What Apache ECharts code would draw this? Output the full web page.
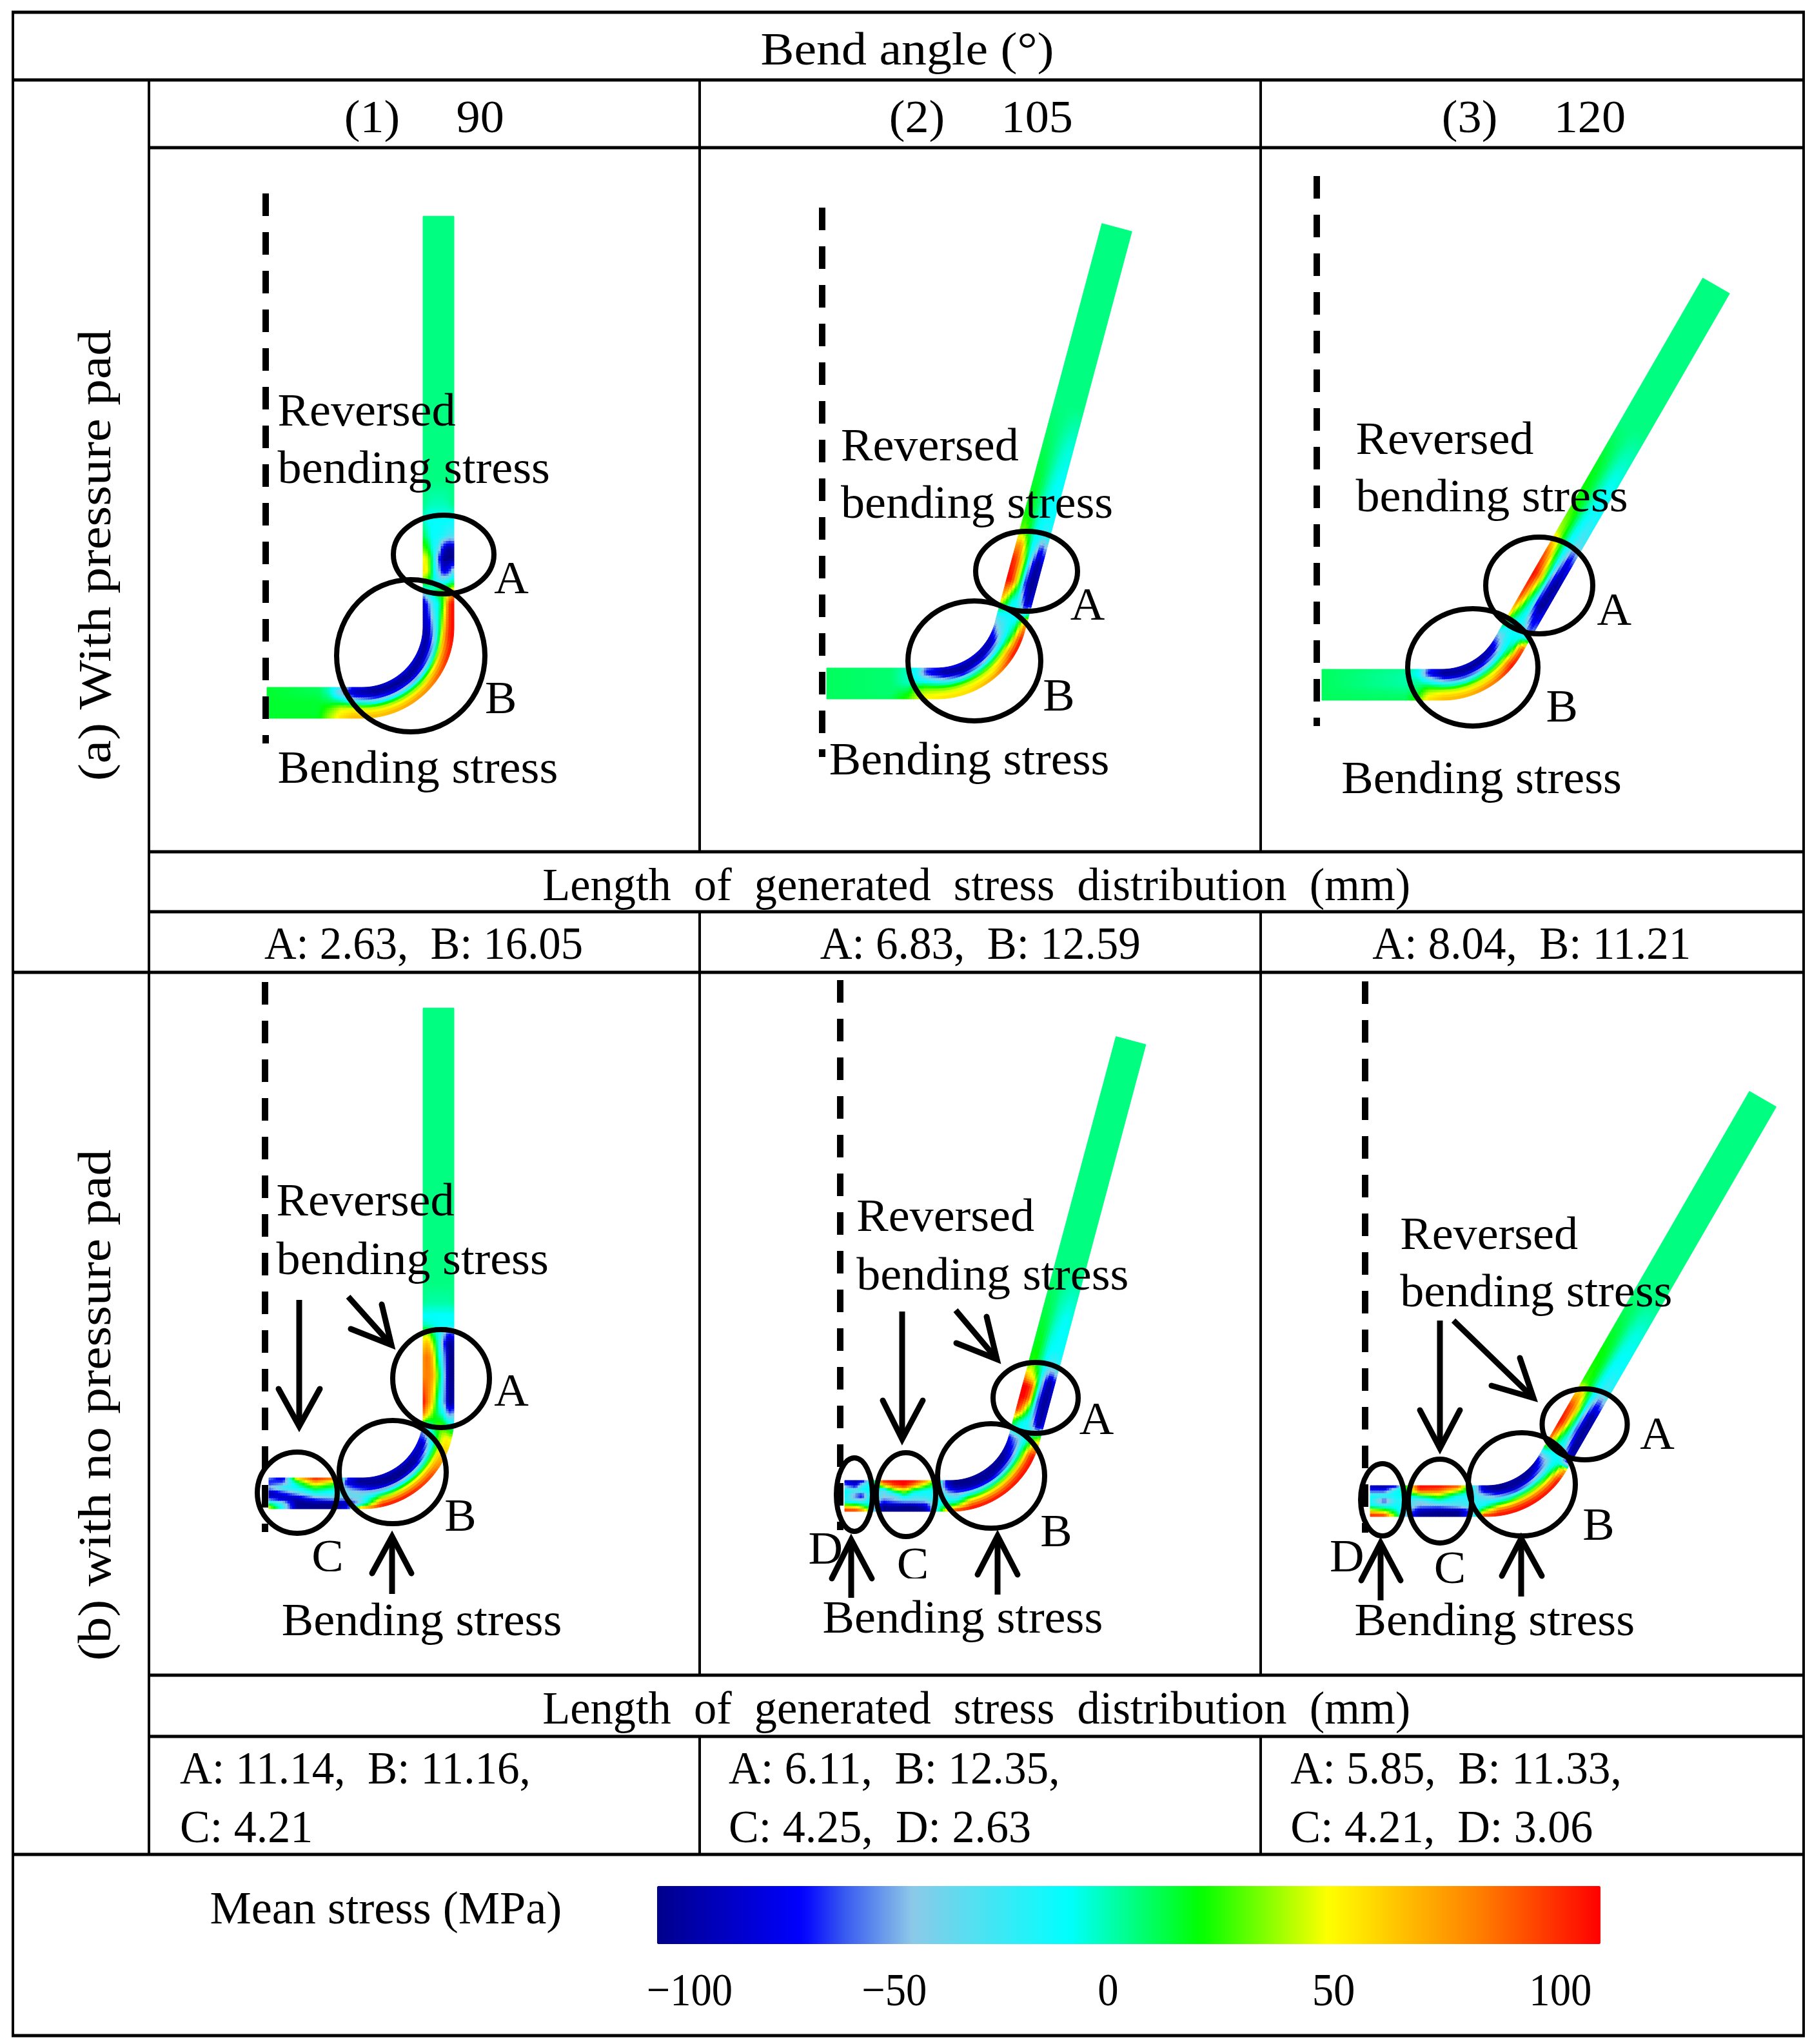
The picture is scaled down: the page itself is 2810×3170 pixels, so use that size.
<!DOCTYPE html>
<html><head><meta charset="utf-8">
<style>html,body{margin:0;padding:0;background:#fff}#c{width:2810px;height:3170px}</style>
<script src="https://cdn.jsdelivr.net/npm/echarts@6/dist/echarts.min.js"></script>
</head><body><div id="c"></div>
<script>
// ---------- values (mean stress in MPa) ----------
const bendAngles = ['90', '105', '120'];
const colorbarTicks = ['\u2212100', '\u221250', '0', '50', '100'];
const lengthsWithPad = ['A: 2.63,  B: 16.05', 'A: 6.83,  B: 12.59', 'A: 8.04,  B: 11.21'];
const lengthsNoPadLine1 = ['A: 11.14,  B: 11.16,', 'A: 6.11,  B: 12.35,', 'A: 5.85,  B: 11.33,'];
const lengthsNoPadLine2 = ['C: 4.21', 'C: 4.25,  D: 2.63', 'C: 4.21,  D: 3.06'];

// distance along the strip; each stress row runs across the strip, inner edge to outer edge
const stations1 = [0,80,97,115,135,170,205,245,290,322,370,388,402,420,440,455,475,500,525,560,970];
const stress1 = [
[10,10,10,10,10,10,10],[6,6,8,10,10,10,12],[-5,-5,1,8,20,28,32],[-30,-50,-20,5,35,44,50],
[-70,-90,-60,-10,35,52,60],[-85,-100,-80,-25,30,50,60],[-75,-100,-85,-30,25,50,65],
[-70,-100,-90,-35,25,55,75],[-75,-100,-70,-20,45,75,95],[-85,-95,-50,-10,55,90,100],
[-90,-60,-25,-10,20,85,100],[-40,-15,-5,10,20,40,70],[20,12,-5,-20,-15,-5,5],
[50,40,-5,-40,-80,-70,-30],[45,35,-5,-60,-100,-100,-100],[25,15,-15,-30,-80,-100,-90],
[8,-5,-15,-15,-20,-30,-30],[-5,-13,-13,-13,-13,-13,-13],[1,-3,-5,-5,-5,-3,1],[1,1,1,1,1,1,1],[1,1,1,1,1,1,1]];

const stations2 = [0,100,125,140,155,185,215,255,290,312,336,366,396,430,452,472,502,555,621,680,966];
const stress2 = [
[5,5,5,5,5,5,5],[3,3,3,3,3,3,5],[-5,-6,-6,-5,3,12,20],[-15,-20,-15,-5,20,30,35],
[-55,-70,-35,-5,25,38,44],[-75,-100,-60,-15,25,42,50],[-70,-100,-85,-20,30,44,52],
[-75,-100,-60,-5,35,48,70],[-85,-90,-40,-5,45,75,100],[-70,-45,-30,-10,15,70,100],
[-30,-25,-20,-15,-10,30,70],[60,30,-8,-13,-40,-95,-70],[100,95,50,-5,-85,-100,-90],
[95,85,50,0,-60,-100,-80],[65,70,30,-8,-30,-75,-50],[25,30,10,-10,-15,-30,-20],
[15,15,5,-8,-13,-15,-13],[10,10,5,-3,-10,-13,-13],[5,5,2,-1,-5,-8,-8],[1,1,1,1,1,1,1],[1,1,1,1,1,1,1]];

const stations3 = [0,130,150,165,190,225,260,290,318,345,390,430,468,505,558,625,700,956];
const stress3 = [
[5,5,5,5,5,5,5],[0,-3,-3,-3,0,3,5],[-10,-15,-5,0,5,15,25],[-60,-70,-30,0,25,40,50],
[-90,-100,-60,-15,30,50,60],[-80,-100,-75,-20,30,50,65],[-85,-100,-60,-10,35,55,80],
[-90,-85,-40,-5,40,80,100],[-50,-40,-20,-10,-5,60,90],[40,-5,-15,-15,-25,-60,-50],
[90,60,10,-15,-90,-100,-80],[100,90,50,-5,-70,-100,-85],[85,65,25,-8,-40,-85,-60],
[35,30,10,-10,-20,-35,-25],[18,15,8,-5,-13,-18,-13],[12,10,5,-2,-8,-10,-8],[1,1,1,1,1,1,1],[1,1,1,1,1,1,1]];

const stations4 = [3,25,47,75,103,125,145,175,210,250,285,305,322,340,357,399,428,449,463,477,491,512,540,968];
const stress4 = [
[-50,-70,-45,-100,-70,0,50],[-85,-60,-20,-70,-90,-30,-20],[60,0,-15,-40,-90,-100,-95],
[100,60,15,-13,-55,-100,-100],[85,30,0,-20,-40,-100,-100],[-60,-80,-50,-35,-45,-90,-70],
[-90,-100,-70,-40,-35,-40,70],[-85,-100,-90,-35,15,70,100],[-80,-100,-100,-30,30,70,100],
[-75,-100,-90,-20,35,70,90],[-70,-90,-45,-8,30,55,55],[-60,-40,-15,5,35,45,40],
[10,-5,5,25,20,5,-10],[80,50,25,0,-15,-60,-50],[100,75,45,-5,-40,-100,-90],
[70,75,65,20,-30,-100,-100],[70,78,55,-5,-40,-100,-100],[50,60,30,-10,-60,-100,-90],
[30,35,5,-13,-40,-70,-60],[-5,-8,-10,-13,-15,-13,-13],[-13,-13,-13,-13,-13,-13,-13],
[0,-3,-3,-3,-3,-3,0],[1,1,1,1,1,1,1],[1,1,1,1,1,1,1]];

const stations5 = [5,22,32,43,52,65,82,98,112,130,150,165,178,198,240,280,305,323,333,350,367,388,406,420,433,447,471,520,600,964];
const stress5 = [
[-85,-55,-10,-10,-25,40,100],[-95,-80,-25,-60,-30,30,100],[-90,-30,-15,-80,-35,15,80],
[-30,-13,-13,-20,-15,-5,35],[10,-5,-13,-13,-30,-45,-40],[100,50,-40,-40,-60,-100,-100],
[100,90,15,-40,-50,-95,-100],[100,100,40,-5,-40,-100,-100],[100,74,0,-25,-40,-100,-100],
[74,30,-15,-20,-40,-85,-100],[15,-13,-15,-20,-15,-15,-10],[-90,-80,-60,-30,-15,10,70],
[-100,-100,-75,-40,-15,30,100],[-100,-100,-85,-20,30,75,100],[-90,-100,-90,-15,40,75,100],
[-95,-100,-70,-8,45,85,100],[-90,-75,-55,-10,35,85,100],[-70,-55,-45,-15,0,40,50],
[-20,-15,-15,-15,-10,10,25],[30,0,-13,-20,-50,-100,-70],[95,70,20,-10,-70,-100,-80],
[100,100,75,-5,-80,-100,-85],[100,100,80,0,-70,-100,-80],[70,50,40,-10,-60,-100,-70],
[30,40,15,-8,-40,-60,-40],[12,20,5,-10,-30,-30,-20],[10,15,5,-10,-13,-15,-13],
[8,8,3,-5,-10,-13,-10],[1,1,1,1,1,1,1],[1,1,1,1,1,1,1]];

const stations6 = [5,27,46,63,82,112,142,162,181,203,236,268,293,309,321,342,372,401,423,446,497,549,609,961];
const stress6 = [
[-90,-70,-13,-15,-10,50,100],[-100,-70,-15,-70,-20,30,100],[-80,-15,-13,-20,-15,-5,20],
[35,10,-13,-30,-25,-40,-50],[100,90,10,-40,-50,-90,-100],[100,80,30,-10,-50,-100,-100],
[90,40,-15,-25,-35,-100,-100],[-5,-13,-20,-25,-25,-60,-50],[-90,-80,-40,-25,-15,30,100],
[-100,-100,-60,-20,25,80,100],[-90,-100,-80,-10,40,85,100],[-95,-100,-60,-8,40,80,100],
[-95,-70,-50,-15,25,75,100],[-60,-50,-40,-15,-5,40,70],[-10,-12,-15,-13,-20,-60,-70],
[85,40,-5,-13,-50,-100,-90],[100,85,30,-10,-75,-100,-90],[90,80,50,-5,-60,-100,-85],
[50,60,30,-5,-40,-70,-50],[18,20,10,-8,-20,-30,-20],[15,14,8,-5,-13,-13,-13],
[8,8,4,-3,-8,-10,-8],[1,1,1,1,1,1,1],[1,1,1,1,1,1,1]];

// ---------- layout (figure units = reference pixels) ----------
const fields = [
 {st:stations1, sv:stress1, x0:414,  y0:1090, xb:562,  turn:90},
 {st:stations2, sv:stress2, x0:1282, y0:1060, xb:1452, turn:75},
 {st:stations3, sv:stress3, x0:2050, y0:1062, xb:2236, turn:60},
 {st:stations4, sv:stress4, x0:414,  y0:2316, xb:562,  turn:90},
 {st:stations5, sv:stress5, x0:1305, y0:2320, xb:1474, turn:75},
 {st:stations6, sv:stress6, x0:2120, y0:2328, xb:2305.6, turn:60}
];
const STRIP_W = 48, BEND_R = 118;
function stripPoint(p, s, v) {
  const H = p.xb - p.x0, th = p.turn * Math.PI / 180, arc = BEND_R * th;
  let cx, cy, phi;
  if (s <= H) { cx = p.x0 + s; cy = p.y0; phi = 0; }
  else if (s <= H + arc) {
    phi = (s - H) / BEND_R;
    cx = p.xb + BEND_R * Math.sin(phi); cy = p.y0 - BEND_R + BEND_R * Math.cos(phi);
  } else {
    const t = s - H - arc; phi = th;
    cx = p.xb + BEND_R * Math.sin(th) + t * Math.cos(th);
    cy = p.y0 - BEND_R + BEND_R * Math.cos(th) - t * Math.sin(th);
  }
  const o = (0.5 - v) * STRIP_W;
  return [cx - Math.sin(phi) * o, cy - Math.cos(phi) * o];
}
// mesh items: [field, s0, s1, v0, v1, stress]
const meshData = [];
fields.forEach((p, fi) => {
  for (let r = 0; r + 1 < p.st.length; r++) {
    const a = p.sv[r], b = p.sv[r + 1], s0 = p.st[r], s1 = p.st[r + 1];
    const flat = a.every((x, i) => x === a[0] && b[i] === a[0]);
    const ns = flat ? 1 : Math.ceil((s1 - s0) / 4), nv = flat ? 1 : 12;
    for (let i = 0; i < ns; i++) for (let j = 0; j < nv; j++) {
      const f = (i + .5) / ns, g = (j + .5) / nv * 6, k = Math.min(5, Math.floor(g)), h = g - k;
      const val = (a[k] * (1 - h) + a[k + 1] * h) * (1 - f) + (b[k] * (1 - h) + b[k + 1] * h) * f;
      meshData.push([fi, s0 + (s1 - s0) * i / ns, s0 + (s1 - s0) * (i + 1) / ns, j / nv, (j + 1) / nv, val]);
    }
  }
});
const colorStops = [[0,[0,0,140]],[.154,[0,0,255]],[.2,[58,92,240]],[.27,[140,200,232]],[.33,[88,222,240]],
  [.436,[0,255,255]],[.576,[0,255,0]],[.711,[255,255,0]],[.87,[255,128,0]],[1,[255,0,0]]];
const barColors = [];
for (let i = 0; i <= 100; i++) {
  const t = i / 100; let k = 0;
  while (k < colorStops.length - 2 && t > colorStops[k + 1][0]) k++;
  const A = colorStops[k], B = colorStops[k + 1], h = (t - A[0]) / (B[0] - A[0]);
  barColors.push('rgb(' + A[1].map((c, n) => Math.round(c + (B[1][n] - c) * h)).join(',') + ')');
}
const rules = [ // x1,y1,x2,y2
 [18,19,2799,19],[18,124,2799,124],[231,229,2799,229],[231,1321,2799,1321],[231,1414,2799,1414],
 [18,1508,2799,1508],[231,2598,2799,2598],[231,2693,2799,2693],[18,2876,2799,2876],[18,3157,2799,3157],
 [20,19,20,3157],[2797,19,2797,3157],[231,124,231,2876],
 [1085,124,1085,1321],[1085,1414,1085,2598],[1085,2693,1085,2876],
 [1955,124,1955,1321],[1955,1414,1955,2598],[1955,2693,1955,2876]];
const axes = [[412,300,1153],[1275,322,1174],[2042,273,1126],[411,1523,2376],[1303,1520,2373],[2117,1522,2377]];
const loops = [ // cx,cy,rx,ry
 [688,860,78,61],[637,1017,115,118],[1592,886,79,62],[1511,1025,103,93],[2387,908,83,75],[2284,1035,101,91],
 [684,2138,75,76],[609,2283,83,80],[461,2315,62,63],
 [1606,2168,66,55],[1537,2289,83,81],[1405,2318,46,65],[1325,2318,28,57],
 [2457.5,2209,66,55],[2360,2302,83,80],[2233,2328,49,65],[2144,2326,34,56]];
const arrows = [ // tail x,y, tip x,y, barb1 x,y, barb2 x,y
 [464,2016,464,2212,432,2154,496,2154],[540,2011,607,2086,544,2061,592,2023],[608,2472,608,2383,577,2440,638,2440],
 [1399,2034,1399,2232,1369,2172,1431,2172],[1482,2032,1546,2108,1483,2083,1530,2042],
 [1320,2478,1320,2388,1290,2448,1352,2448],[1547,2473,1547,2382,1516,2442,1578,2442],
 [2233,2048,2233,2246,2202,2187,2264,2187],[2254,2048,2378,2168,2313,2149,2357,2106],
 [2141,2482,2141,2393,2111,2451,2172,2451],[2359,2476,2359,2386,2329,2444,2391,2444]];
const covers = [[440,2437,120,40],[1370,2448,110,16]];
const K = 2810 / 1390, DY = 4;
const label = (t, x, y, o) => Object.assign({t, x: x * K, y: y * K + DY}, o || {});
const texts = [
 label('Bend angle (\u00b0)', 696, 38, {a:'center', w:455}),
 label('(1)',264,90), label(bendAngles[0],350,90), label('(2)',682,90), label(bendAngles[1],768,90),
 label('(3)',1106,90), label(bendAngles[2],1192,90),
 label('(a) With pressure pad',75,424,{a:'center',rot:1,w:700}), label('(b) with no pressure pad',75,1076,{a:'center',rot:1,w:793}),
 label('Reversed',213,315), label('bending stress',213,359), label('A',379,444), label('B',372,536), label('Bending stress',213,589),
 label('Reversed',645,342), label('bending stress',645,386), label('A',821,464), label('B',800,534), label('Bending stress',636,583),
 label('Reversed',1040,337), label('bending stress',1040,381), label('A',1225,468), label('B',1186,542), label('Bending stress',1029,597),
 label('Length  of  generated  stress  distribution  (mm)',749,679,{a:'center',w:1346}),
 label(lengthsWithPad[0],325,724,{a:'center',w:494}), label(lengthsWithPad[1],752,724,{a:'center',w:497}), label(lengthsWithPad[2],1175,724,{a:'center',w:494}),
 label('Reversed',212,921), label('bending stress',212,966), label('A',379,1067), label('B',341,1163), label('C',239,1194), label('Bending stress',216,1243),
 label('Reversed',657,933), label('bending stress',657,978), label('A',828,1089), label('B',798,1175), label('C',688,1200), label('D',620,1188), label('Bending stress',631,1241),
 label('Reversed',1074,947), label('bending stress',1074,991), label('A',1258,1100), label('B',1214,1170), label('C',1100,1203), label('D',1020,1194), label('Bending stress',1039,1243),
 label('Length  of  generated  stress  distribution  (mm)',749,1311,{a:'center',w:1346}),
 label(lengthsNoPadLine1[0],138,1357,{w:269*K}), label(lengthsNoPadLine2[0],138,1402,{w:102*K}),
 label(lengthsNoPadLine1[1],559,1357,{w:254*K}), label(lengthsNoPadLine2[1],559,1402,{w:232*K}),
 label(lengthsNoPadLine1[2],990,1357,{w:254*K}), label(lengthsNoPadLine2[2],990,1402,{w:232*K}),
 label('Mean stress (MPa)',161,1464,{w:270*K}),
 label(colorbarTicks[0],529,1527,{a:'center',w:66*K}), label(colorbarTicks[1],686,1527,{a:'center',w:50*K}), label(colorbarTicks[2],850,1527,{a:'center',w:16*K}),
 label(colorbarTicks[3],1023,1527,{a:'center',w:33*K}), label(colorbarTicks[4],1197,1527,{a:'center',w:48*K})
];
const FONT = '72px "Liberation Serif"', SCALE = 1.03;
const mctx = document.createElement('canvas').getContext('2d'); mctx.font = FONT;

function custom(data, render, z) {
  return {type:'custom', coordinateSystem:'cartesian2d', data, renderItem:render, z, silent:true, animation:false, progressive:0, clip:false};
}
const chart = echarts.init(document.getElementById('c'), null, {renderer:'canvas', width:2810, height:3170});
const val = (api, n) => Array.from({length:n}, (_, i) => api.value(i));
chart.setOption({
  animation:false, backgroundColor:'#fff',
  grid:{left:0, right:0, top:0, bottom:0},
  xAxis:{type:'value', min:0, max:2810, show:false},
  yAxis:{type:'value', min:0, max:3170, inverse:true, show:false},
  visualMap:{type:'continuous', min:-100, max:100, seriesIndex:0, dimension:5, orient:'horizontal',
    left:1019, top:2925, padding:0, itemWidth:90, itemHeight:1463, calculable:false, hoverLink:false, text:null,
    showLabel:false, inRange:{color:barColors}, outOfRange:{color:barColors}},
  series:[
    custom(meshData, (params, api) => {
      const [f, s0, s1, v0, v1] = val(api, 5), p = fields[f], c = api.visual('color');
      const pts = [[s0,v0],[s1,v0],[s1,v1],[s0,v1]].map(q => api.coord(stripPoint(p, q[0], q[1])));
      return {type:'polygon', shape:{points:pts}, style:{fill:c, stroke:c, lineWidth:1}};
    }, 2),
    custom(rules, (params, api) => {
      const [x1,y1,x2,y2] = val(api,4), a = api.coord([x1,y1]), b = api.coord([x2,y2]);
      return {type:'line', shape:{x1:a[0],y1:a[1],x2:b[0],y2:b[1]}, style:{stroke:'#000', lineWidth: y1===y2 ? 5 : 4}};
    }, 3),
    custom(axes, (params, api) => {
      const [x,y1,y2] = val(api,3), a = api.coord([x,y1]), b = api.coord([x,y2]);
      return {type:'line', shape:{x1:a[0],y1:a[1],x2:b[0],y2:b[1]}, style:{stroke:'#000', lineWidth:10, lineDash:[35,25]}};
    }, 4),
    custom(loops, (params, api) => {
      const [x,y,rx,ry] = val(api,4), c = api.coord([x,y]), e = api.coord([x+rx,y+ry]);
      return {type:'ellipse', shape:{cx:c[0],cy:c[1],rx:e[0]-c[0],ry:e[1]-c[1]}, style:{fill:null, stroke:'#000', lineWidth:8}};
    }, 5),
    custom(arrows, (params, api) => {
      const v = val(api,8), P = i => api.coord([v[i],v[i+1]]);
      const tail = P(0), tip = P(2), L = Math.hypot(tip[0]-tail[0], tip[1]-tail[1]);
      const end = [tip[0]-(tip[0]-tail[0])/L*8, tip[1]-(tip[1]-tail[1])/L*8];
      return {type:'group', children:[
        {type:'line', shape:{x1:tail[0],y1:tail[1],x2:end[0],y2:end[1]}, style:{stroke:'#000', lineWidth:9}},
        {type:'polyline', shape:{points:[P(4),tip,P(6)]}, style:{fill:null, stroke:'#000', lineWidth:9, lineCap:'round', lineJoin:'miter'}}
      ]};
    }, 6),
    custom(texts.map(t => [t.x, t.y]), (params, api) => {
      const o = texts[params.dataIndex], c = api.coord([o.x, o.y]);
      const sx = o.w ? o.w / mctx.measureText(o.t).width : SCALE;
      return {type:'text', x:c[0], y:c[1], rotation:o.rot ? Math.PI/2 : 0, scaleX:sx, scaleY:1,
        style:{text:o.t, font:FONT, fill:'#000', align:o.a||'left', textAlign:o.a||'left', verticalAlign:'middle', textVerticalAlign:'middle'}};
    }, 7),
    custom(covers, (params, api) => {
      const [x,y,w,h] = val(api,4), a = api.coord([x,y]), b = api.coord([x+w,y+h]);
      return {type:'rect', shape:{x:a[0],y:a[1],width:b[0]-a[0],height:b[1]-a[1]}, style:{fill:'#fff'}};
    }, 8)
  ]
});
</script></body></html>
